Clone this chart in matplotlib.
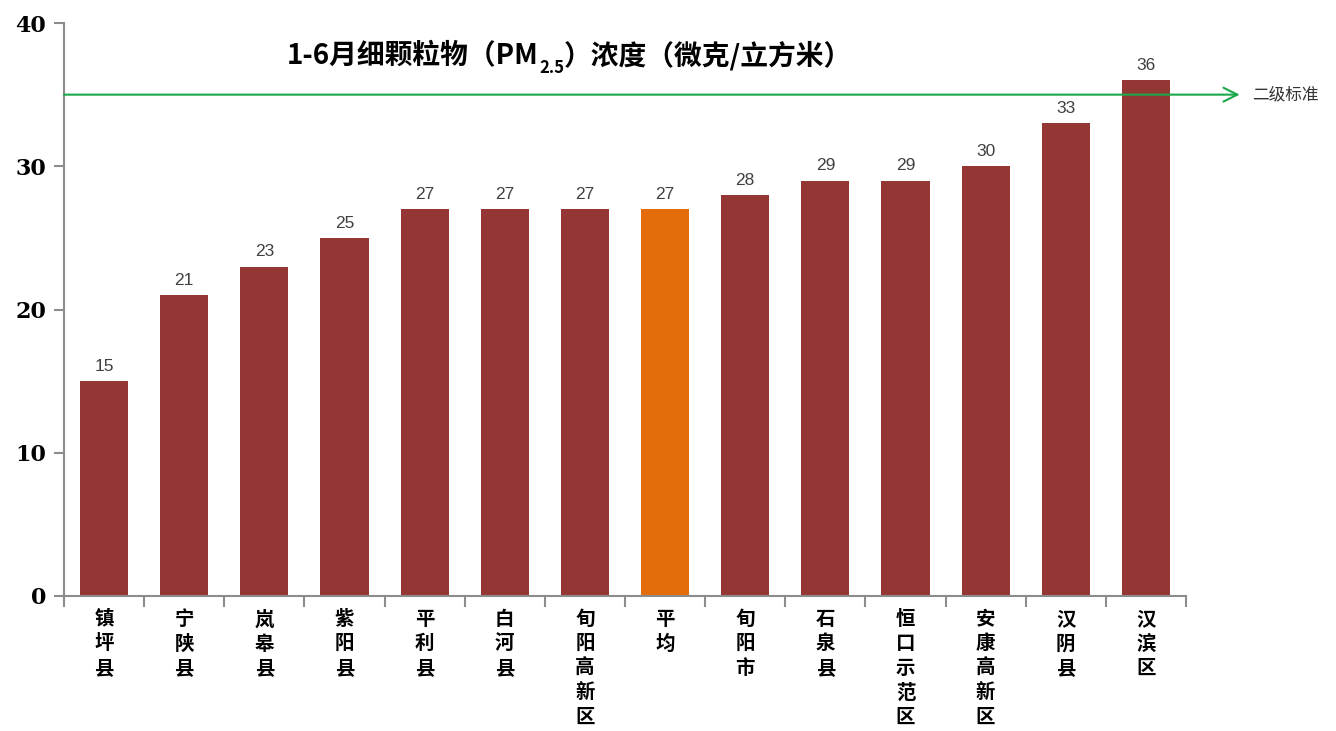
import matplotlib.pyplot as plt
import numpy as np

plt.rcParams['font.family'] = ['Noto Sans CJK SC', 'DejaVu Sans']

# data
regions = ["镇坪县", "宁陕县", "岚皋县", "紫阳县", "平利县", "白河县", "旬阳高新区",
           "平均", "旬阳市", "石泉县", "恒口示范区", "安康高新区", "汉阴县", "汉滨区"]
pm25 = [15, 21, 23, 25, 27, 27, 27, 27, 28, 29, 29, 30, 33, 36]
standard = 35
yticks = [0, 10, 20, 30, 40]

bar_red = "#943634"
bar_orange = "#E46C0A"
colors = [bar_orange if r == "平均" else bar_red for r in regions]

fig = plt.figure(figsize=(13.36, 7.31), dpi=100)
ax = fig.add_axes([0.0479, 0.1847, 0.8398, 0.7838])

x = np.arange(len(regions))
ax.bar(x, pm25, width=0.6, color=colors)

for xi, v in zip(x, pm25):
    ax.text(xi, v + 0.5, str(v), ha='center', va='bottom', fontsize=12.5,
            color='#404040', family=['Liberation Sans', 'DejaVu Sans'])

ax.set_xlim(-0.5, len(regions) - 0.5)
ax.set_ylim(0, 40)

# axes styling
for s in ['top', 'right']:
    ax.spines[s].set_visible(False)
for s in ['left', 'bottom']:
    ax.spines[s].set_color('#8c8c8c')
    ax.spines[s].set_linewidth(1.5)

ax.set_yticks(yticks)
ax.set_yticklabels([str(t) for t in yticks], fontsize=16, fontweight='bold',
                   family=['DejaVu Serif'])
ax.tick_params(axis='y', length=7, width=1.5, color='#8c8c8c', pad=6)

ax.set_xticks(x)
ax.set_xticklabels(["\n".join(r) for r in regions], fontsize=14, fontweight='bold',
                   linespacing=1.36, va='top')
ax.tick_params(axis='x', which='major', length=0, pad=10)
ax.set_xticks(np.arange(-0.5, len(regions)), minor=True)
ax.tick_params(axis='x', which='minor', length=8, width=1.5, color='#8c8c8c')

# standard line with arrow
ax.annotate('', xy=(14.17, standard), xytext=(-0.5, standard),
            arrowprops=dict(arrowstyle='->', color='#1aa84a', lw=1.5,
                            mutation_scale=25, shrinkA=0, shrinkB=0),
            annotation_clip=False)
ax.text(14.33, standard, "二级标准", va='center', ha='left', fontsize=12,
        color='#333333')

# title in pieces for the subscript
t1 = fig.text(0.215, 0.912, "1-6月细颗粒物（PM", fontsize=20, fontweight='bold',
              va='baseline', ha='left')
t2 = ax.annotate("2.5", xy=(1, 0), xycoords=t1, xytext=(0, -5),
                 textcoords='offset points', fontsize=12, fontweight='bold',
                 va='bottom', ha='left')
t3 = ax.annotate("）浓度（微克/立方米）", xy=(1, 0), xycoords=t2, xytext=(0, 5),
                 textcoords='offset points', fontsize=20, fontweight='bold',
                 va='bottom', ha='left')

fig.savefig("out.png", dpi=100)
